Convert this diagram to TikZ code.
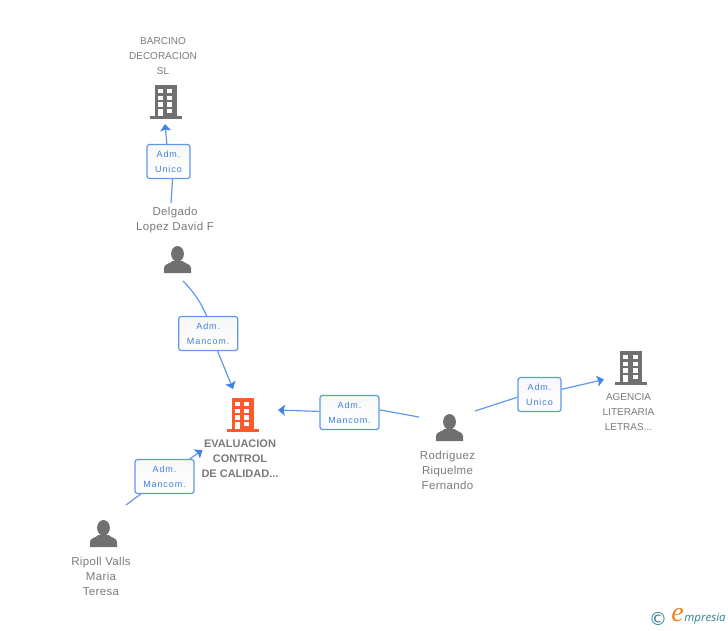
\documentclass[tikz,border=0pt]{standalone}
\usepackage{fontspec}
\setmainfont{Liberation Sans}
\newfontfamily\lblfont[LetterSpace=10]{Liberation Sans}
\newfontfamily\perfont[LetterSpace=3]{Liberation Sans}
\newfontfamily\logofont{Open Sans}
\newfontfamily\logoe{Liberation Serif}
\newfontfamily\symfont{DejaVu Sans}
\usetikzlibrary{arrows.meta}
\definecolor{icongray}{HTML}{707070}
\definecolor{textgray}{HTML}{7A7A7A}
\definecolor{iconorange}{HTML}{FF5A2B}
\definecolor{linkblue}{HTML}{5F98EA}
\definecolor{tipblue}{HTML}{3F84E5}
\definecolor{lbltext}{HTML}{3F80E0}
\definecolor{logoteal}{HTML}{2F7F95}
\definecolor{logoorange}{HTML}{F08020}
\tikzset{
  x=1pt,y=-1pt,
  rolebox/.style={draw=linkblue,line width=1.2pt,rounded corners=2.5pt,top color=white!94!gray,bottom color=white,
    text=lbltext,align=center,inner sep=0pt,font=\fontsize{9}{15}\selectfont\lblfont},
  wide/.style={rolebox,minimum width=59pt,minimum height=34pt},
  narrow/.style={rolebox,minimum width=43pt,minimum height=34pt},
  link/.style={draw=linkblue,line width=1.2pt},
  tipped/.style={link,-{Stealth[length=7pt,width=11pt,color=tipblue,inset=1.5pt]}},
  company/.style={text=textgray,align=center,inner sep=0pt,font=\fontsize{10}{15}\selectfont},
  person/.style={text=textgray,align=center,inner sep=0pt,font=\fontsize{11.5}{15}\selectfont\perfont},
  focus/.style={text=textgray,align=center,inner sep=0pt,font=\fontsize{11}{15}\selectfont\bfseries},
  pics/bldg/.style={code={
    \fill[#1] (-11,0) rectangle (11.3,31);
    \fill[#1] (-16,31) rectangle (16,33.5);
    \foreach \yy in {4,10.7,17.3}{
      \fill[white] (-7.8,\yy) rectangle (-3,\yy+4.4);
      \fill[white] (1.8,\yy) rectangle (6.9,\yy+4.4);
    }
    \fill[white] (-7.8,23.5) rectangle (-3,31);
    \fill[white] (1.8,23.5) rectangle (6.9,28.3);
  }},
  pics/human/.style={code={
    \fill[icongray] (0,7.8) ellipse[x radius=6.4,y radius=7.8];
    \fill[icongray] (-13.5,27) -- (-13.5,22) .. controls (-13.5,18) and (-8,18) .. (-5,15)
      -- (5,15) .. controls (8,18) and (13.5,18) .. (13.5,22) -- (13.5,27) -- cycle;
  }}
}
\begin{document}
\begin{tikzpicture}
\useasboundingbox (0,0) rectangle (728,630);
% icons
\coordinate (ibar) at (165.5,85);
\coordinate (ieva) at (242.5,398);
\coordinate (iage) at (631,351);
\coordinate (idel) at (177.5,246);
\coordinate (irod) at (449.5,414);
\coordinate (irip) at (103.5,520);
\pic at (ibar) {bldg=icongray};
\pic at (ieva) {bldg=iconorange};
\pic at (iage) {bldg=icongray};
\pic at (idel) {human};
\pic at (irod) {human};
\pic at (irip) {human};
% texts
\node[company] (bar) at (163,56) {BARCINO\\DECORACION\\SL};
\node[company] (age) at (628.5,412) {AGENCIA\\LITERARIA\\LETRAS...};
\node[focus] (eva) at (240,459) {EVALUACION\\CONTROL\\DE CALIDAD...};
\node[person] (del) at (175,220) {Delgado\\Lopez David F};
\node[person] (rod) at (447.5,470) {Rodriguez\\Riquelme\\Fernando};
\node[person] (rip) at (101,576) {Ripoll Valls\\Maria\\Teresa};
% role boxes
\node[narrow] (r1) at (168.5,161.5) {Adm.\\Unico};
\node[wide] (r2) at (208.2,333.5) {Adm.\\Mancom.};
\node[wide] (r3) at (164.5,476.5) {Adm.\\Mancom.};
\node[wide] (r4) at (349.5,412.5) {Adm.\\Mancom.};
\node[narrow] (r5) at (539.5,394.5) {Adm.\\Unico};
% free ends
\coordinate (s1) at (171,203);
\coordinate (t1) at (165,124);
\coordinate (s2) at (183,281);
\coordinate (t2) at (233,389);
\coordinate (s3) at (126,505);
\coordinate (t3) at (202.5,450);
\coordinate (s4) at (419,417);
\coordinate (t4) at (278,410);
\coordinate (s5) at (475,411);
\coordinate (t5) at (604,379.5);
% connectors
\draw[link] (s1) -- (r1.-77);
\draw[tipped] (r1) -- (t1);
\draw[link] (s2) to[bend left=10] (r2.95);
\draw[tipped] (r2.-62) -- (t2);
\draw[link] (s3) -- (r3);
\draw[tipped] (r3) -- (t3);
\draw[link] (s4) -- (r4.5);
\draw[tipped] (r4) -- (t4);
\draw[link] (s5) -- (r5.187);
\draw[tipped] (r5) -- (t5);
% logo
\node[text=logoteal,inner sep=0pt,font=\fontsize{18}{18}\selectfont\symfont] (lc) at (658,619) {©};
\node[text=logoorange,inner sep=0pt,font=\fontsize{28}{28}\selectfont\logoe\itshape] (le) at (677.5,615) {e};
\node[text=logoteal,inner sep=0pt,font=\fontsize{11.5}{12}\selectfont\logofont\itshape] (lm) at (705,619) {mpresia};
\end{tikzpicture}
\end{document}
